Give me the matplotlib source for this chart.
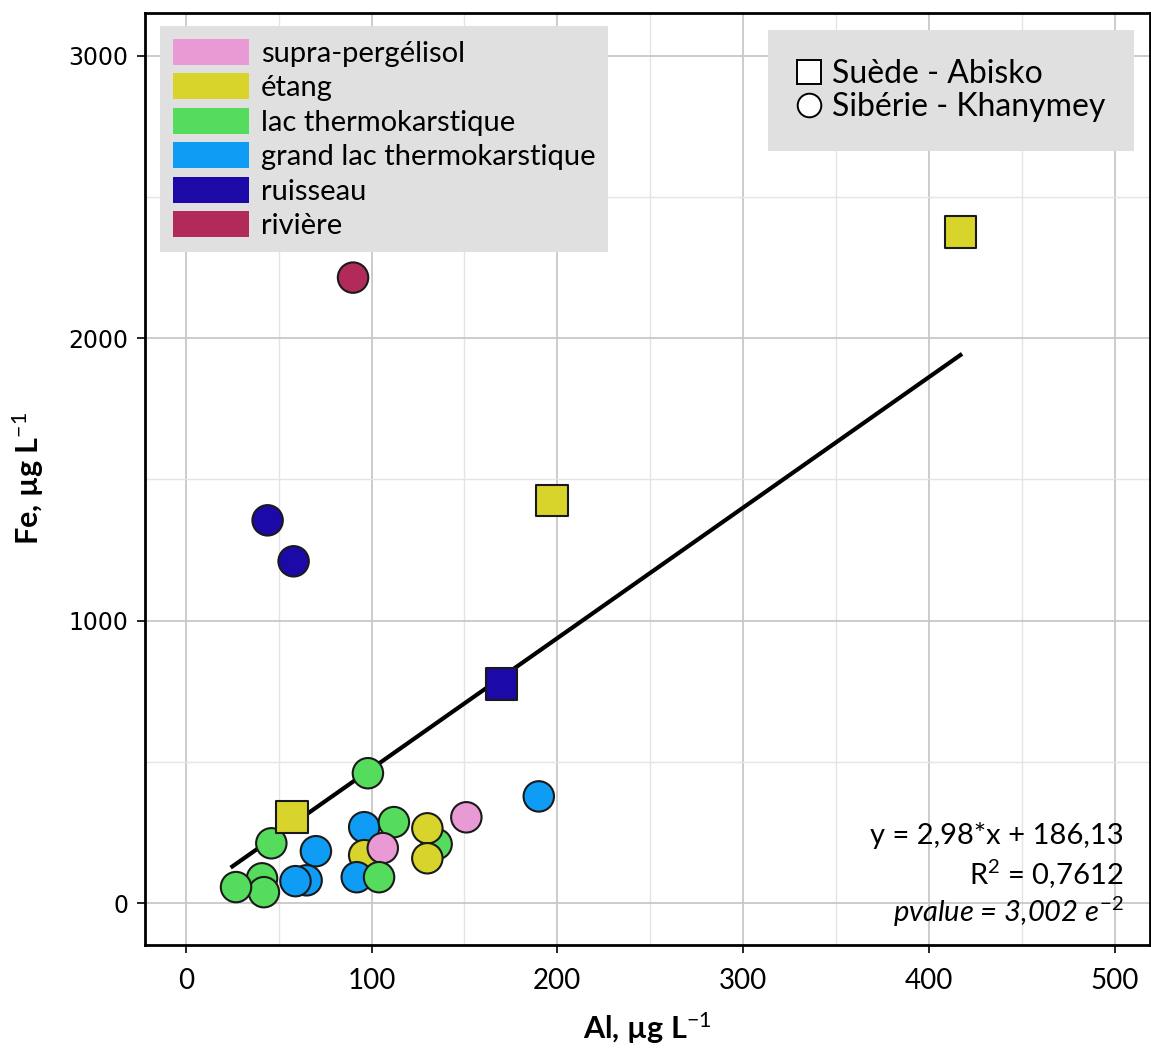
import matplotlib
matplotlib.use("Agg")
import matplotlib.pyplot as plt
from matplotlib.patches import Patch
from matplotlib.lines import Line2D

plt.rcParams['font.family'] = ['Lato', 'DejaVu Sans']
plt.rcParams['mathtext.fontset'] = 'custom'
plt.rcParams['mathtext.rm'] = 'Lato'
plt.rcParams['mathtext.it'] = 'Lato:italic'
plt.rcParams['mathtext.bf'] = 'Lato:bold'

# categories and colours
categories = ["supra-pergélisol", "étang", "lac thermokarstique",
              "grand lac thermokarstique", "ruisseau", "rivière"]
colors = ["#E99AD5", "#D8D42B", "#56DC5C", "#0E9CF4", "#1C0AA8", "#B12A5A"]

# Suède - Abisko (squares)
sq_al = [417, 197, 57, 170]
sq_fe = [2375, 1425, 304, 775]
sq_cat = [1, 1, 1, 4]

# Sibérie - Khanymey (circles)
ci_al = [90, 44, 58, 190, 151, 98, 46, 70, 96, 112, 135, 130, 130, 96, 106, 92, 104, 65, 59, 41, 42, 27]
ci_fe = [2214, 1355, 1210, 378, 304, 460, 212, 184, 269, 287, 209, 265, 159, 170, 195, 92, 92, 81, 78, 88, 39, 57]
ci_cat = [5, 4, 4, 3, 0, 2, 2, 3, 3, 2, 2, 1, 1, 1, 0, 3, 2, 3, 3, 2, 2, 2]

# regression line as drawn
line_x = [25, 417]
line_y = [130, 1940]

fig = plt.figure(figsize=(11.51, 10.48), dpi=100)
ax = fig.add_axes([0.126, 0.098, 0.873, 0.89])

ax.set_xlim(-22, 519)
ax.set_ylim(-149, 3152)
ax.set_xticks([0, 100, 200, 300, 400, 500])
ax.set_yticks([0, 1000, 2000, 3000])
ax.set_xticks([50, 150, 250, 350, 450], minor=True)
ax.set_yticks([500, 1500, 2500], minor=True)
ax.grid(True, which='major', color='#c8c8c8', lw=1.3)
ax.grid(True, which='minor', color='#e4e4e4', lw=1.0)
ax.tick_params(which='minor', length=0)
ax.tick_params(which='major', length=6, width=1.2)
ax.tick_params(axis='x', labelsize=20, pad=10)
ax.tick_params(axis='y', labelsize=17, pad=6)
for lab in ax.get_yticklabels():
    lab.set_family('DejaVu Sans')
for s in ax.spines.values():
    s.set_linewidth(2)
ax.set_axisbelow(True)

ax.plot(line_x, line_y, color='black', lw=3, zorder=2)

ax.scatter(ci_al, ci_fe, c=[colors[i] for i in ci_cat], marker='o', s=480,
           edgecolors='#1a1a1a', linewidths=1.5, zorder=3)
ax.scatter(sq_al, sq_fe, c=[colors[i] for i in sq_cat], marker='s', s=520,
           edgecolors='#1a1a1a', linewidths=1.5, zorder=4)

ax.set_xlabel("Al, µg L$^{-1}$", fontsize=22, fontweight='bold', labelpad=12)
ax.set_ylabel("Fe, µg L$^{-1}$", fontsize=22, fontweight='bold', labelpad=16)

h1 = [Patch(facecolor=c, edgecolor='none') for c in colors]
leg1 = ax.legend(h1, categories, loc='upper left', bbox_to_anchor=(0.015, 0.986),
                 borderaxespad=0, fontsize=21, frameon=True, facecolor='#e0e0e0',
                 edgecolor='none', framealpha=1, fancybox=False, handlelength=2.6,
                 handleheight=1.0, labelspacing=0.22, handletextpad=0.4, borderpad=0.45)
ax.add_artist(leg1)

h2 = [Line2D([], [], marker='s', ls='none', mfc='white', mec='black', ms=17, mew=1.4),
      Line2D([], [], marker='o', ls='none', mfc='white', mec='black', ms=17, mew=1.4)]
ax.legend(h2, ["Suède - Abisko", "Sibérie - Khanymey"], loc='upper right',
          bbox_to_anchor=(0.984, 0.981), borderaxespad=0, fontsize=23, frameon=True,
          facecolor='#e0e0e0', edgecolor='none', framealpha=1, fancybox=False,
          handlelength=0.8, handletextpad=0.3, labelspacing=0.1, borderpad=0.9)

ax.text(0.974, 0.118, "y = 2,98*x + 186,13", transform=ax.transAxes, ha='right',
        va='center', fontsize=21)
ax.text(0.974, 0.076, "R$^2$ = 0,7612", transform=ax.transAxes, ha='right',
        va='center', fontsize=21)
ax.text(0.974, 0.036, "pvalue = 3,002 $e^{-2}$", transform=ax.transAxes, ha='right',
        va='center', fontsize=21, style='italic')

fig.savefig("out.png", dpi=100)
